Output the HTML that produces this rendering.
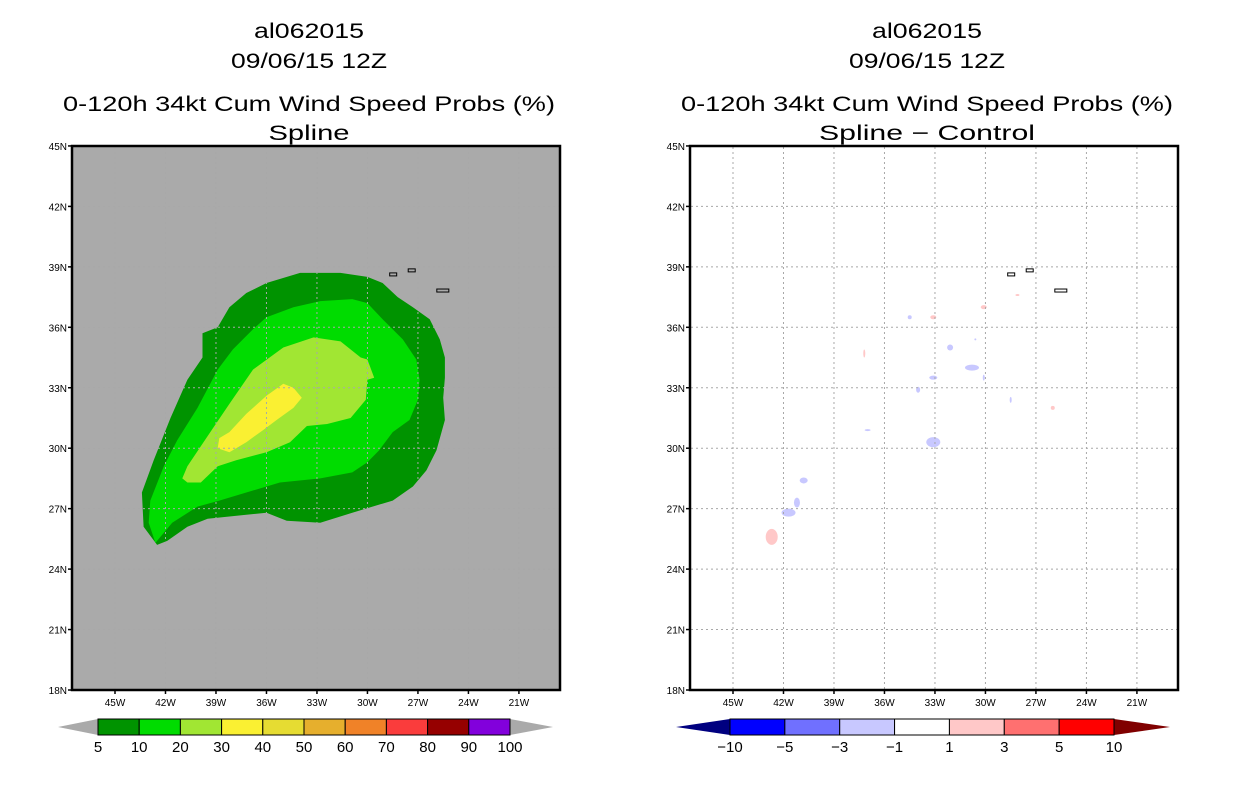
<!DOCTYPE html>
<html><head><meta charset="utf-8"><style>
html,body{margin:0;padding:0;background:#fff;}
svg{display:block;font-family:"Liberation Sans",sans-serif;}
</style></head><body>
<svg id="chart" width="1236" height="800" viewBox="0 0 1236 800"></svg>
<script>
// ---- data ----
const latTicks = [45,42,39,36,33,30,27,24,21,18];
const lonTicks = [45,42,39,36,33,30,27,24,21];
const leftLevels = ["5","10","20","30","40","50","60","70","80","90","100"];
const leftColors = ["#009300","#00dc00","#a1e633","#faf032","#e6dc32","#e6af2d","#f08228","#fa3c3c","#960000","#8200dc"];
const rightLevels = ["-10","-5","-3","-1","1","3","5","10"];
const rightColors = ["#0000ff","#7070ff","#c8c8ff","#ffffff","#ffc8c8","#ff7070","#ff0000"];
// contour polygons: [lonW, latN]
const prob5 = [[42.5,25.2],[43.3,26.1],[43.4,27.8],[42.7,29.4],[41.7,31.5],[40.7,33.4],[39.8,34.5],[39.8,35.7],[38.9,36.0],[38.2,37.0],[37.2,37.7],[36.0,38.2],[34.0,38.7],[31.6,38.7],[30.0,38.5],[29.1,38.2],[28.2,37.5],[27.3,37.0],[26.3,36.4],[25.7,35.4],[25.4,34.5],[25.4,33.5],[25.5,32.5],[25.4,31.4],[25.9,29.9],[26.5,28.9],[27.3,28.1],[28.5,27.4],[30.9,26.8],[32.8,26.3],[34.8,26.4],[36.0,26.8],[37.2,26.7],[39.5,26.5],[40.7,26.1],[41.9,25.4]];
const prob10 = [[42.6,25.3],[43.0,26.3],[42.9,27.4],[42.1,29.1],[41.3,30.4],[40.1,32.0],[38.9,33.9],[38.0,34.9],[36.8,35.9],[36.0,36.5],[34.4,37.0],[32.8,37.3],[30.9,37.4],[30.0,37.2],[29.1,36.4],[27.9,35.4],[27.1,34.4],[26.9,33.4],[27.0,32.4],[27.5,31.4],[28.5,30.8],[29.3,29.9],[30.0,29.3],[30.9,28.8],[32.8,28.5],[35.2,28.3],[36.0,28.1],[37.2,27.8],[38.8,27.4],[40.1,27.1],[41.6,26.3]];
const prob20 = [[41.0,28.5],[40.7,29.1],[39.5,30.6],[38.2,32.2],[36.8,33.9],[35.0,35.0],[33.2,35.5],[31.6,35.3],[30.4,34.5],[30.0,34.4],[29.6,33.5],[30.0,33.4],[30.1,32.4],[31.0,31.5],[32.4,31.2],[33.6,31.1],[34.6,30.3],[36.0,29.8],[37.8,29.4],[38.9,29.1],[39.9,28.3],[40.7,28.3]];
const prob30 = [[38.9,30.0],[38.8,30.5],[38.2,30.8],[37.2,31.7],[36.0,32.6],[35.0,33.2],[34.4,33.0],[33.9,32.5],[34.4,32.0],[35.4,31.4],[36.2,30.9],[37.2,30.3],[38.2,29.8]];
// difference blobs [lonW, latN, rx, ry]
const diffNeg = [[40.8,28.4,4,3],[41.7,26.8,7,4],[41.2,27.3,3,5],[33.1,30.3,7,5],[30.8,34.0,7,3],[32.1,35.0,3,3],[33.1,33.5,4,2],[34.0,32.9,2,3],[34.5,36.5,2,2],[37.0,30.9,3,1],[28.5,32.4,1,3],[30.1,33.5,1,3],[30.6,35.4,1,1]];
const diffPos = [[42.7,25.6,6,8],[37.2,34.7,1,4],[33.1,36.5,3,2],[30.1,37.0,3,2],[26.0,32.0,2,2],[28.1,37.6,2,1]];
const islands = [[28.5,38.6],[27.4,38.8],[25.7,37.8]];

// ---- helpers ----
const NS = "http://www.w3.org/2000/svg";
const svg = document.getElementById('chart');
function mk(tag, attrs, parent){ const e=document.createElementNS(NS,tag); for(const k in attrs) e.setAttribute(k,attrs[k]); (parent||svg).appendChild(e); return e; }
const PX_DEG_X = 16.83, PX_DEG_Y = 20.15;
function xScale(ox){ return lonW => ox + 43 + (45-lonW)*PX_DEG_X; }
function yScale(lat){ return 690 - (lat-18)*PX_DEG_Y; }

function titles(cx, sub, side){
  const t = [["al062015",38,110],["09/06/15 12Z",68,156],["0-120h 34kt Cum Wind Speed Probs (%)",111,492],[sub,140,sub.length*13.5]];
  const names=["storm-id-title","date-title","product-title","subtitle"];
  t.forEach((r,i)=>{
    const e=mk('text',{x:cx,y:r[1],'text-anchor':'middle','font-size':21,textLength:r[2],lengthAdjust:'spacingAndGlyphs',fill:'#000'});
    
    
    e.textContent=r[0];
  });
}

function panel(ox, bg, side){
  const X = xScale(ox);
  const g = mk('g',{});
  
  
  mk('rect',{x:ox,y:146,width:488,height:544,fill:bg},g);
  return {X,g};
}

function poly(pts, X, fill, g, name){
  const p = mk('polygon',{points:pts.map(d=>X(d[0]).toFixed(1)+','+yScale(d[1]).toFixed(1)).join(' '),fill:fill},g);
  
  
}

function gridAndAxes(ox, X, g, side){
  const gc = mk('g',{stroke:'#a8a8a8','stroke-width':1,'stroke-dasharray':'2,3'},g);
  
  
  lonTicks.forEach(l=>{ mk('line',{x1:X(l),x2:X(l),y1:147,y2:689},gc); });
  latTicks.forEach(l=>{ if(l!==45&&l!==18) mk('line',{x1:ox+1,x2:ox+487,y1:yScale(l),y2:yScale(l)},gc); });
  // islands
  islands.forEach((d,i)=>{
    const r=mk('rect',{x:X(d[0])-3,y:yScale(d[1])-2,width:i==2?12:7,height:3,fill:'none',stroke:'#000','stroke-width':1},g);
    
    
  });
  const b=mk('rect',{x:ox,y:146,width:488,height:544,fill:'none',stroke:'#000','stroke-width':2.5},g);
  
  
  latTicks.forEach(l=>{
    mk('line',{x1:ox-4,x2:ox,y1:yScale(l),y2:yScale(l),stroke:'#000','stroke-width':1.5},g);
    const t=mk('text',{x:ox-5,y:yScale(l)+4,'text-anchor':'end','font-size':10,fill:'#000'},g);
    
    
    t.textContent=l+'N';
  });
  lonTicks.forEach(l=>{
    mk('line',{x1:X(l),x2:X(l),y1:690,y2:694,stroke:'#000','stroke-width':1.5},g);
    const t=mk('text',{x:X(l),y:706,'text-anchor':'middle','font-size':10,fill:'#000'},g);
    
    
    t.textContent=l+'W';
  });
}

function colorbar(x0, x1, tipL, tipR, colors, levels, lcol, rcol, side){
  const g=mk('g',{});
  
  
  const y0=719,y1=735,w=(x1-x0)/colors.length;
  mk('polygon',{points:`${x0},${y0} ${tipL},727 ${x0},${y1}`,fill:lcol},g);
  mk('polygon',{points:`${x1},${y0} ${tipR},727 ${x1},${y1}`,fill:rcol},g);
  colors.forEach((c,i)=>{
    const r=mk('rect',{x:x0+i*w,y:y0,width:w,height:y1-y0,fill:c,stroke:'#000','stroke-width':1},g);
    
    
  });
  levels.forEach((s,i)=>{
    const t=mk('text',{x:x0+i*w,y:752,'text-anchor':'middle','font-size':15,fill:'#000'},g);
    
    
    t.textContent=s.replace('-','\u2212');
  });
}

// ---- left panel ----
titles(309,"Spline","left");
const L = panel(72,'#aaaaaa','left');
poly(prob5, L.X, leftColors[0], L.g, 'prob-5-contour');
poly(prob10, L.X, leftColors[1], L.g, 'prob-10-contour');
poly(prob20, L.X, leftColors[2], L.g, 'prob-20-contour');
poly(prob30, L.X, leftColors[3], L.g, 'prob-30-contour');
gridAndAxes(72, L.X, L.g, 'left');
colorbar(98,510,58,553,leftColors,leftLevels,'#aaaaaa','#aaaaaa','left');

// ---- right panel ----
titles(927,"Spline \u2212 Control","right");
const R = panel(690,'#ffffff','right');
diffNeg.forEach(d=>{
  const e=mk('ellipse',{cx:R.X(d[0]),cy:yScale(d[1]),rx:d[2],ry:d[3],fill:'#c8c8ff'},R.g);
  
  
});
diffPos.forEach(d=>{
  const e=mk('ellipse',{cx:R.X(d[0]),cy:yScale(d[1]),rx:d[2],ry:d[3],fill:'#ffc8c8'},R.g);
  
  
});
gridAndAxes(690, R.X, R.g, 'right');
colorbar(730,1114,676,1170,rightColors,rightLevels,'#000080','#800000','right');
</script>
</body></html>
